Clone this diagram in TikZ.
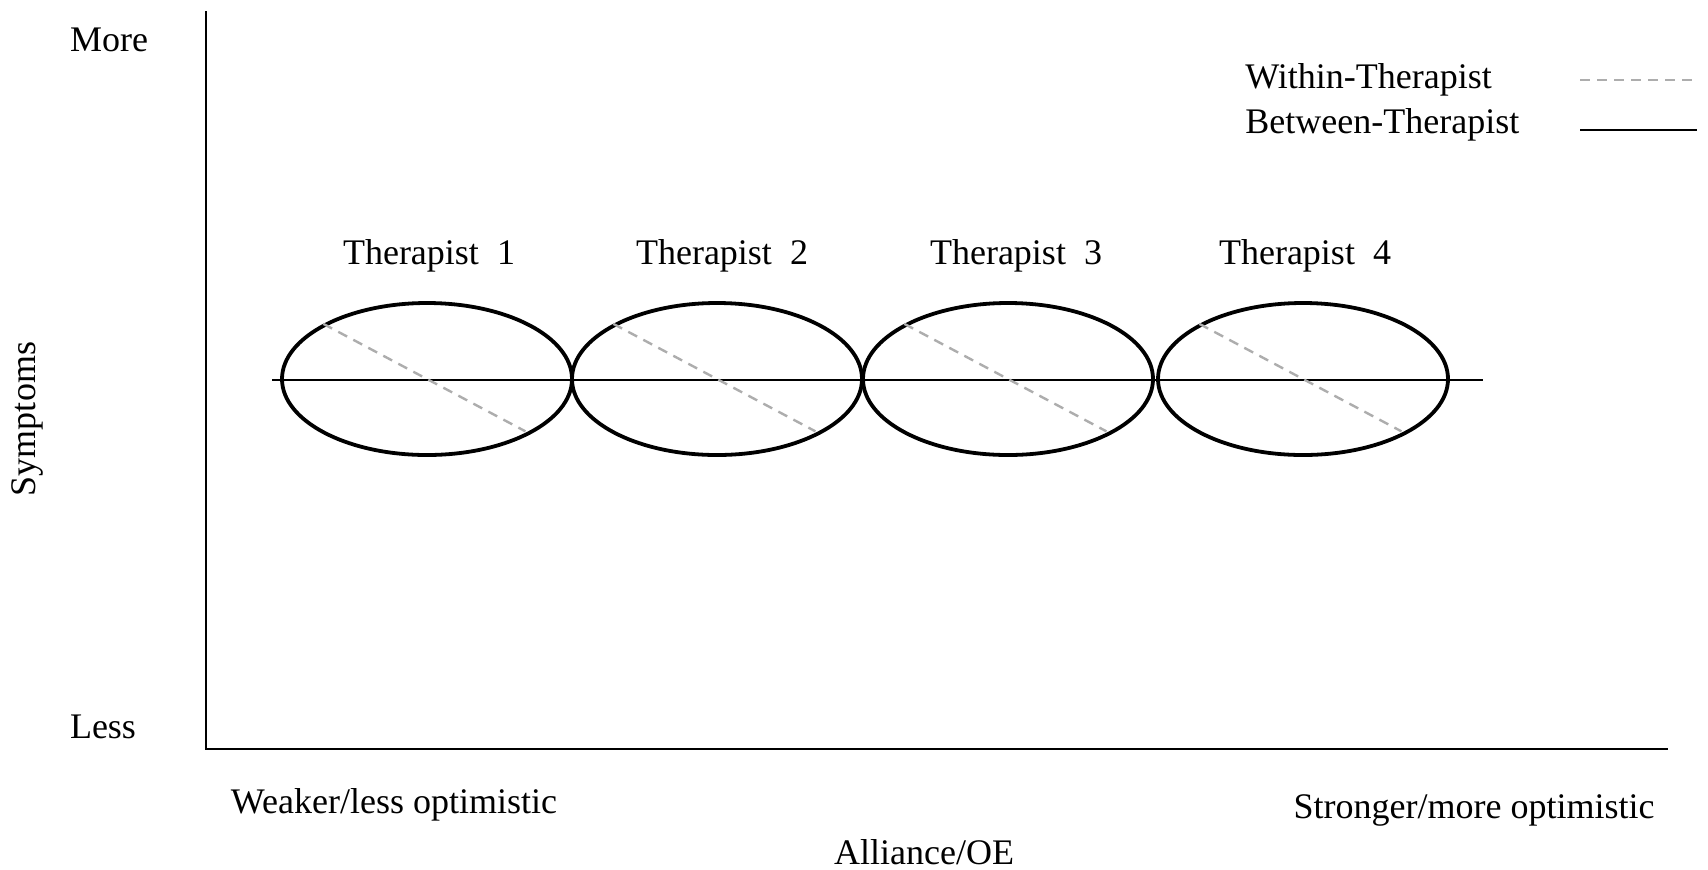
\documentclass[tikz,border=0pt]{standalone}
\usepackage{fontspec}
\setmainfont{Liberation Serif}
\usetikzlibrary{shapes.geometric}
\begin{document}
\begin{tikzpicture}[x=0.5pt,y=-0.5pt,
  lbl/.style={font=\fontsize{18}{20}\selectfont, inner sep=0pt},
  therbox/.style={draw, ellipse, line width=1.9pt, minimum width=145pt, minimum height=76pt, inner sep=0pt},
  within/.style={draw=black!32, line width=1.2pt, dash pattern=on 5pt off 3.5pt},
  between/.style={draw=black, line width=1pt},
  axis/.style={draw=black, line width=1.2pt}]
\useasboundingbox (0,0) rectangle (1708,869);
% axes
\coordinate (ytop) at (206,11);
\coordinate (orig) at (206,749);
\coordinate (xend) at (1668,749);
\draw[axis] (ytop) -- (orig) -- (xend);
% axis labels
\node[lbl] (more) at (109,40) {More};
\node[lbl] (less) at (103,727) {Less};
\node[lbl, rotate=90] (sym) at (27,419) {Symptoms};
\node[lbl] (weak) at (394,805) {Weaker/less optimistic};
\node[lbl] (strong) at (1474,810) {Stronger/more optimistic};
\node[lbl] (xlab) at (924,852) {Alliance/OE};
% ellipses
\node[therbox] (e1) at (427,379) {};
\node[therbox] (e2) at (717,379) {};
\node[therbox] (e3) at (1008,379) {};
\node[therbox] (e4) at (1303,379) {};
\node[lbl] (t1) at (429,256) {Therapist\ \ 1};
\node[lbl] (t2) at (722,256) {Therapist\ \ 2};
\node[lbl] (t3) at (1016,256) {Therapist\ \ 3};
\node[lbl] (t4) at (1305,256) {Therapist\ \ 4};
% between line
\coordinate (hl) at (272,380);
\coordinate (hr) at (1483,380);
\draw[between] (hl) -- (hr);
% within lines
\foreach \e in {e1,e2,e3,e4} {
  \draw[within, shorten >=3pt] (\e.152) -- (\e.-28);
}
% legend
\node[lbl, anchor=west] (lw) at (1245,80) {Within-Therapist};
\node[lbl, anchor=west] (lb) at (1245,125) {Between-Therapist};
\coordinate (lw1) at (1580,80);
\coordinate (lw2) at (1697,80);
\coordinate (lb1) at (1580,130);
\coordinate (lb2) at (1697,130);
\draw[within] (lw1) -- (lw2);
\draw[between] (lb1) -- (lb2);
\end{tikzpicture}
\end{document}
